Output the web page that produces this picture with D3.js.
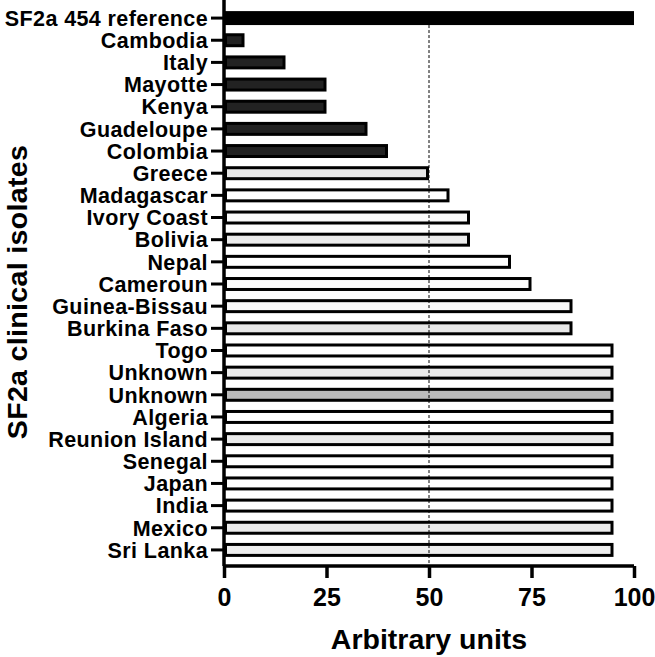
<!DOCTYPE html>
<html>
<head>
<meta charset="utf-8">
<script src="https://cdn.jsdelivr.net/npm/d3@7"></script>
<style>
html,body{margin:0;padding:0;background:#fff;}
text{font-family:"Liberation Sans",Arial,Helvetica,sans-serif;font-weight:bold;fill:#000;}
</style>
</head>
<body>
<svg id="chart" width="655" height="657"></svg>
<script>
const categories = ["SF2a 454 reference","Cambodia","Italy","Mayotte","Kenya","Guadeloupe","Colombia","Greece","Madagascar","Ivory Coast","Bolivia","Nepal","Cameroun","Guinea-Bissau","Burkina Faso","Togo","Unknown ","Unknown","Algeria","Reunion Island","Senegal","Japan","India","Mexico","Sri Lanka"];
const values = [100,5,15,25,25,35,40,50,55,60,60,70,75,85,85,95,95,95,95,95,95,95,95,95,95];
const fills = ["#000000","#222222","#222222","#222222","#222222","#222222","#222222","#e6e6e6","#ffffff","#fafafa","#ececec","#ffffff","#fcfcfc","#f8f8f8","#e8e8e8","#ffffff","#ececec","#bbbbbb","#ffffff","#ebebeb","#ffffff","#ffffff","#ffffff","#ebebeb","#eeeeee"];
const xTicks = [0,25,50,75,100];
const refLine = 50;
const xTitle = "Arbitrary units";
const yTitle = "SF2a clinical isolates";

const svg = d3.select("#chart");
const x = d3.scaleLinear().domain([0,100]).range([224,634]);
const y = d3.scaleBand().domain(categories).range([7,561]).paddingInner(0.37).paddingOuter(0.185);
const sw = 3;

// bars
svg.append("g").selectAll("rect").data(categories).join("rect")
  .attr("x", x(0) + sw/2)
  .attr("y", d => y(d) + sw/2)
  .attr("width", (d,i) => Math.max(0, x(values[i]) - x(0) - sw))
  .attr("height", y.bandwidth() - sw)
  .attr("fill", (d,i) => fills[i])
  .attr("stroke", "#000")
  .attr("stroke-width", sw);

// reference dashed line
svg.append("line")
  .attr("x1", x(refLine)).attr("x2", x(refLine))
  .attr("y1", y(categories[0]) + y.bandwidth()).attr("y2", 566)
  .attr("stroke", "#000").attr("stroke-width", 1).attr("stroke-dasharray", "3,2");

// x axis
const xAxis = svg.append("g").attr("transform", "translate(0,566)")
  .call(d3.axisBottom(x).tickValues(xTicks).tickSize(12).tickPadding(10).tickFormat(d3.format("d")));
xAxis.select(".domain").attr("d", `M${x(0)},0H${x(100)}`).attr("stroke-width", 3.5);
xAxis.selectAll(".tick line").attr("stroke-width", 3.5);
xAxis.selectAll(".tick text").attr("font-size", 25).attr("dy", "0.71em");

// y axis
const yAxis = svg.append("g").attr("transform", `translate(${x(0)},0)`)
  .call(d3.axisLeft(y).tickSize(13).tickPadding(3).tickFormat(d => d.trim()));
yAxis.select(".domain").attr("d", "M0,0V566").attr("stroke-width", 3.5);
yAxis.selectAll(".tick line").attr("stroke-width", 3);
yAxis.selectAll(".tick text").attr("font-size", 21.5).attr("letter-spacing", "0.4px").attr("dy", "0.36em");

// titles
svg.append("text").attr("x", x(50)).attr("y", 649)
  .attr("text-anchor", "middle").attr("font-size", 28.5).text(xTitle);
svg.append("text").attr("transform", "translate(26.5,292) rotate(-90)")
  .attr("text-anchor", "middle").attr("font-size", 28.5).attr("letter-spacing", "0.35px").text(yTitle);
</script>
</body>
</html>
